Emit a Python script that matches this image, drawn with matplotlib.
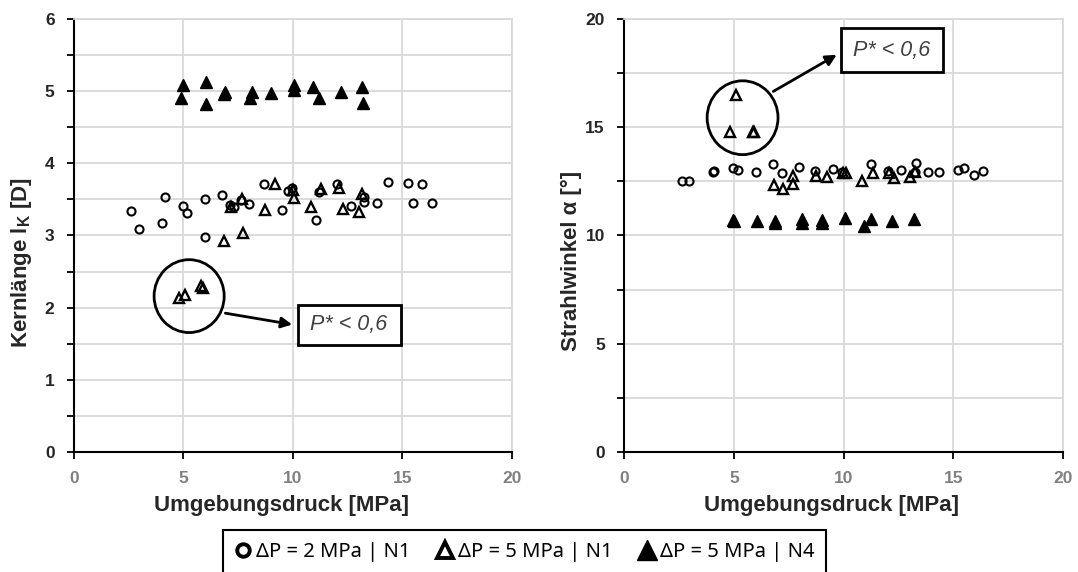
import numpy as np
import matplotlib
matplotlib.use("Agg")
import matplotlib.pyplot as plt
from matplotlib.patches import Ellipse, Rectangle
from matplotlib.lines import Line2D

plt.rcParams['font.family'] = ['Liberation Sans', 'DejaVu Sans']
plt.rcParams['font.weight'] = 'bold'
plt.rcParams['axes.labelweight'] = 'bold'
plt.rcParams['mathtext.fontset'] = 'custom'
plt.rcParams['mathtext.rm'] = 'Liberation Sans:bold'
plt.rcParams['mathtext.bf'] = 'Liberation Sans:bold'

# --- Kernlaenge (left) ---
k_c_x = [2.59, 2.97, 4.02, 4.14, 4.96, 5.17, 5.98, 5.98, 6.77, 7.12, 7.30, 7.65, 7.98, 8.67,
         9.51, 9.78, 9.96, 11.07, 11.19, 12.03, 12.64, 13.25, 13.25, 13.84, 14.34, 15.25,
         15.48, 15.91, 16.37]
k_c_y = [3.34, 3.09, 3.18, 3.53, 3.41, 3.31, 3.51, 2.98, 3.56, 3.42, 3.40, 3.49, 3.43, 3.71,
         3.36, 3.62, 3.66, 3.21, 3.60, 3.71, 3.41, 3.53, 3.47, 3.45, 3.74, 3.73,
         3.45, 3.71, 3.45]
k_t_x = [4.79, 5.05, 5.82, 5.90, 6.84, 7.19, 7.68, 7.70, 8.73, 9.17, 10.00, 10.05, 10.81,
         11.30, 12.09, 12.29, 13.00, 13.17]
k_t_y = [2.14, 2.18, 2.30, 2.27, 2.92, 3.40, 3.51, 3.03, 3.35, 3.72, 3.63, 3.52, 3.39,
         3.65, 3.66, 3.37, 3.33, 3.58]
k_f_x = [4.99, 4.88, 6.02, 6.02, 6.92, 6.86, 8.11, 8.03, 9.02, 10.04, 10.04, 10.92, 11.19,
         12.21, 13.17, 13.20]
k_f_y = [5.09, 4.90, 5.13, 4.82, 4.99, 4.96, 4.99, 4.90, 4.98, 5.09, 5.01, 5.06, 4.90,
         4.99, 5.06, 4.84]

# --- Strahlwinkel (right) ---
s_c_x = [2.61, 2.96, 4.05, 4.10, 4.94, 5.16, 6.00, 6.76, 7.17, 7.97, 8.69, 9.49, 9.90,
         11.22, 12.03, 12.63, 13.29, 13.24, 13.85, 14.34, 15.22, 15.49, 15.93, 16.36]
s_c_y = [12.52, 12.52, 12.95, 12.98, 13.11, 13.03, 12.92, 13.31, 12.88, 13.15, 13.00, 13.06,
         12.95, 13.29, 12.98, 13.03, 13.34, 12.95, 12.91, 12.95, 13.03, 13.11, 12.80, 12.98]
s_t_x = [5.07, 4.81, 5.88, 5.91, 6.83, 7.24, 7.70, 7.67, 8.73, 9.22, 9.95, 10.10, 10.84,
         11.34, 12.30, 12.07, 13.01, 13.24]
s_t_y = [16.49, 14.77, 14.77, 14.77, 12.31, 12.15, 12.37, 12.77, 12.77, 12.68, 12.88, 12.88,
         12.54, 12.88, 12.65, 12.88, 12.72, 12.95]
s_f_x = [4.94, 5.00, 6.06, 6.89, 6.89, 8.11, 8.08, 9.02, 9.02, 10.05, 10.93, 11.22, 12.22, 13.21]
s_f_y = [10.72, 10.69, 10.65, 10.69, 10.57, 10.75, 10.57, 10.72, 10.60, 10.80, 10.46, 10.77,
         10.68, 10.75]

labels = ['ΔP = 2 MPa | N1', 'ΔP = 5 MPa | N1', 'ΔP = 5 MPa | N4']
note = 'P* < 0,6'

GRID = '#d9d9d9'
DARK = '#262626'

fig = plt.figure(figsize=(10.78, 5.72), dpi=100)
ax1 = fig.add_axes([0.0686, 0.2098, 0.4063, 0.757])
ax2 = fig.add_axes([0.5791, 0.2098, 0.4072, 0.757])


def draw(ax, cx, cy, tx, ty, fx, fy):
    ax.plot(cx, cy, 'o', ms=5.8, mfc='none', mec='black', mew=1.5, zorder=3)
    ax.plot(tx, ty, '^', ms=7.8, mfc='none', mec='black', mew=1.7, zorder=3)
    ax.plot(fx, fy, '^', ms=8.5, mfc='black', mec='black', mew=1.0, zorder=3)


def style(ax, ymax, ymaj, ymin, ylabel, xl_x, yl_x, yl_y):
    ax.set_xlim(0, 20)
    ax.set_ylim(0, ymax)
    ax.set_xticks(np.arange(0, 21, 5))
    ax.set_yticks(np.arange(0, ymax + 0.01, ymaj))
    ax.set_yticks(np.arange(0, ymax + 0.01, ymin), minor=True)
    ax.grid(True, which='major', axis='x', color=GRID, lw=1.3, zorder=0)
    ax.grid(True, which='both', axis='y', color=GRID, lw=1.3, zorder=0)
    ax.set_axisbelow(True)
    for s in ['top', 'right']:
        ax.spines[s].set_color(GRID)
        ax.spines[s].set_linewidth(1.3)
    for s in ['left', 'bottom']:
        ax.spines[s].set_color('black')
        ax.spines[s].set_linewidth(1.5)
    ax.tick_params(axis='both', which='both', direction='out', length=5, width=1.3, color='black')
    ax.tick_params(axis='x', labelsize=12.5, labelcolor='#808080', pad=9)
    ax.tick_params(axis='y', labelsize=12.5, labelcolor=DARK, pad=9)
    ax.set_xlabel('Umgebungsdruck [MPa]', fontsize=16, fontweight='bold', color=DARK)
    ax.set_ylabel(ylabel, fontsize=16, fontweight='bold', color=DARK)
    ax.xaxis.set_label_coords(xl_x, -0.1)
    ax.yaxis.set_label_coords(yl_x, yl_y)


def callout(ax, center, w, h, start, end, box):
    ax.add_patch(Ellipse(center, w, h, fill=False, ec='black', lw=2.0, zorder=4))
    ax.annotate('', xy=end, xytext=start,
                arrowprops=dict(arrowstyle='-|>', color='black', lw=2.0, mutation_scale=16),
                zorder=4)
    x0, y0, x1, y1 = box
    ax.add_patch(Rectangle((x0, y0), x1 - x0, y1 - y0, fc='white', ec='black', lw=2.0, zorder=4))
    ax.text((x0 + x1) / 2, (y0 + y1) / 2, note, fontsize=15.5, style='italic', weight='normal',
            color='#404040', ha='center', va='center', zorder=5)


draw(ax1, k_c_x, k_c_y, k_t_x, k_t_y, k_f_x, k_f_y)
style(ax1, 6, 1, 0.5, r'Kernlänge l$_\mathbf{K}$ [D]', 0.474, -0.091, 0.437)
callout(ax1, (5.26, 2.16), 3.2, 1.01, (6.79, 1.93), (10.09, 1.76), (10.21, 1.48, 14.92, 2.04))

draw(ax2, s_c_x, s_c_y, s_t_x, s_t_y, s_f_x, s_f_y)
style(ax2, 20, 5, 2.5, 'Strahlwinkel α [°]', 0.4724, -0.096, 0.441)
callout(ax2, (5.39, 15.44), 3.23, 3.41, (6.68, 16.59), (9.79, 18.41), (9.86, 17.54, 14.53, 19.57))

handles = [
    Line2D([], [], ls='none', marker='o', ms=9, mfc='none', mec='black', mew=2.8),
    Line2D([], [], ls='none', marker='^', ms=11, mfc='none', mec='black', mew=2.8),
    Line2D([], [], ls='none', marker='^', ms=14, mfc='black', mec='black'),
]
leg = fig.legend(handles, labels, ncol=3, loc='upper center', bbox_to_anchor=(0.4866, 0.0735),
                 frameon=True, fancybox=False, edgecolor='black', framealpha=1,
                 prop={'family': ['Noto Sans', 'DejaVu Sans'], 'size': 14.5, 'weight': 'normal'},
                 handlelength=0.8, handletextpad=0.25, columnspacing=1.3,
                 borderpad=0.6, borderaxespad=0)
leg.get_frame().set_linewidth(1.5)

fig.savefig('out.png', dpi=100)
